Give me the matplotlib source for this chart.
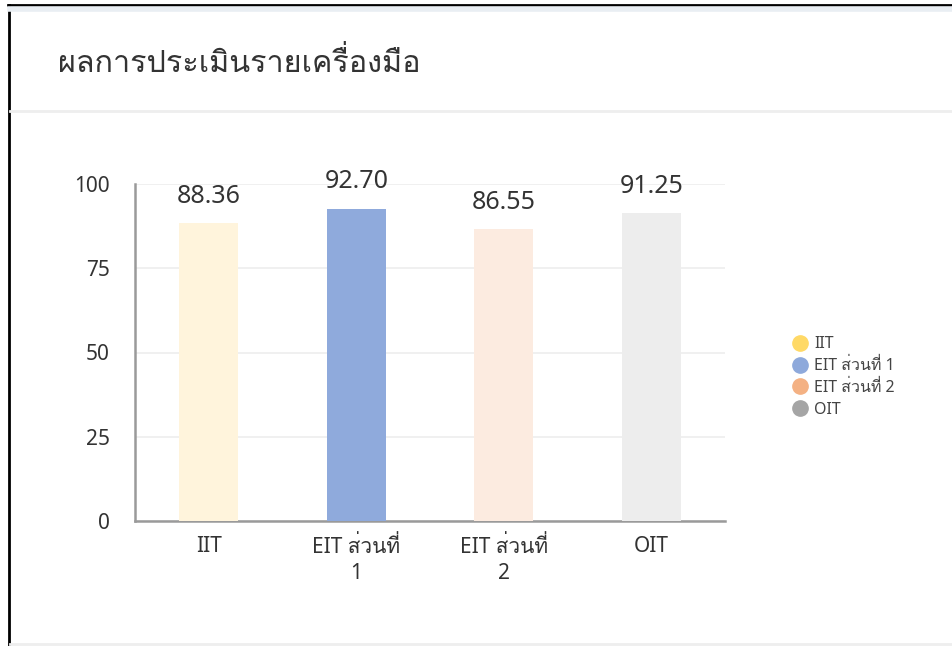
import matplotlib
matplotlib.use("Agg")
import matplotlib.pyplot as plt
from matplotlib.lines import Line2D

# ---- data ----
title = "ผลการประเมินรายเครื่องมือ"
categories = ["IIT", "EIT ส่วนที่\n1", "EIT ส่วนที่\n2", "OIT"]
legend_labels = ["IIT", "EIT ส่วนที่ 1", "EIT ส่วนที่ 2", "OIT"]
values = [88.36, 92.70, 86.55, 91.25]
value_labels = ["88.36", "92.70", "86.55", "91.25"]
y_ticks = [0, 25, 50, 75, 100]

bar_colors = ["#FFF4DC", "#8FAADC", "#FCEBE0", "#EDEDED"]
legend_colors = ["#FFD966", "#8EA9DB", "#F4B183", "#A5A5A5"]

FONT = ["Noto Sans", "Loma", "DejaVu Sans"]
plt.rcParams["font.family"] = FONT
TXT = "#333333"

fig = plt.figure(figsize=(9.52, 6.46), dpi=100)
W, H = 952, 646

def fx(px):
    return px / W

def fy(py):
    return 1 - py / H

# frame decorations
fig.add_artist(Line2D([fx(8), 1], [fy(5), fy(5)], color="black", lw=2.0))
fig.add_artist(Line2D([fx(9), fx(9)], [fy(5), 0], color="black", lw=2.0))
fig.add_artist(Line2D([fx(10), 1], [fy(9), fy(9)], color="#E9EEF3", lw=4.0))
fig.add_artist(Line2D([fx(10), 1], [fy(111), fy(111)], color="#EEEEEE", lw=2.0))
fig.add_artist(Line2D([fx(10), 1], [fy(644), fy(644)], color="#EEEEEE", lw=2.0))

fig.text(fx(58), fy(63), title, fontsize=22, color=TXT, va="center", ha="left")

ax = fig.add_axes([fx(135), fy(521), fx(725) - fx(135), fy(184) - fy(521)])
x = list(range(len(categories)))
bars = ax.bar(x, values, width=0.4, color=bar_colors, zorder=3)
ax.set_xlim(-0.5, len(categories) - 0.5)
ax.set_ylim(0, 100)
ax.set_yticks(y_ticks)
ax.set_yticklabels([str(t) for t in y_ticks])
ax.set_xticks(x)
ax.set_xticklabels(categories, linespacing=1.3)
ax.tick_params(axis="y", length=0, pad=18, labelsize=15, labelcolor=TXT)
ax.tick_params(axis="x", length=0, pad=11, labelsize=15, labelcolor=TXT)
ax.grid(axis="y", color="#EEEEEE", lw=1.2, zorder=0)
for s in ["top", "right"]:
    ax.spines[s].set_visible(False)
for s in ["left", "bottom"]:
    ax.spines[s].set_color("#9A9A9A")
    ax.spines[s].set_linewidth(1.8)

for xi, v, lab in zip(x, values, value_labels):
    ax.annotate(lab, (xi, v), xytext=(0, 19.5), textcoords="offset points",
                ha="center", va="center", fontsize=18, color=TXT)

handles = [Line2D([], [], marker="o", linestyle="none", markersize=11,
                  markerfacecolor=c, markeredgecolor=c) for c in legend_colors]
leg = fig.legend(handles, legend_labels, loc="center left",
                 bbox_to_anchor=(fx(782), fy(377)), frameon=False,
                 fontsize=11.5, handletextpad=0.3, labelspacing=0.36,
                 borderpad=0, handlelength=1.2)
for t in leg.get_texts():
    t.set_color("#444444")

fig.savefig("out.png", dpi=100)
